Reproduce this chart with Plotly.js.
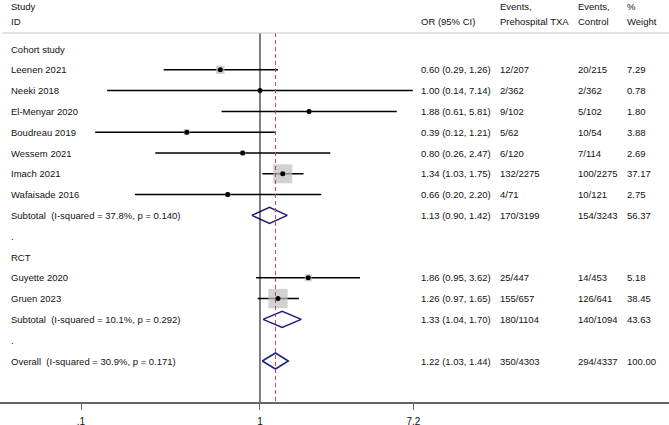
<!DOCTYPE html>
<html>
<head>
<meta charset="utf-8">
<script src="https://cdn.plot.ly/plotly-3.0.1.min.js"></script>
<style>html,body{margin:0;padding:0;background:#fff;}#chart{width:669px;height:425px;}</style>
</head>
<body>
<div id="chart"></div>
<script>
// ---------- data ----------
const studies   = ["Leenen 2021","Neeki 2018","El-Menyar 2020","Boudreau 2019","Wessem 2021","Imach 2021","Wafaisade 2016","Guyette 2020","Gruen 2023"];
const groupOf   = ["Cohort study","Cohort study","Cohort study","Cohort study","Cohort study","Cohort study","Cohort study","RCT","RCT"];
const orVals    = [0.60, 1.00, 1.88, 0.39, 0.80, 1.34, 0.66, 1.86, 1.26];
const ciLow     = [0.29, 0.14, 0.61, 0.12, 0.26, 1.03, 0.20, 0.95, 0.97];
const ciHigh    = [1.26, 7.14, 5.81, 1.21, 2.47, 1.75, 2.20, 3.62, 1.65];
const eventsTXA = ["12/207","2/362","9/102","5/62","6/120","132/2275","4/71","25/447","155/657"];
const eventsCtl = ["20/215","2/362","5/102","10/54","7/114","100/2275","10/121","14/453","126/641"];
const weights   = [7.29, 0.78, 1.80, 3.88, 2.69, 37.17, 2.75, 5.18, 38.45];

const groups      = ["Cohort study","RCT"];
const subLabel    = ["Subtotal  (I-squared = 37.8%, p = 0.140)","Subtotal  (I-squared = 10.1%, p = 0.292)"];
const subOR       = [1.13, 1.33];
const subLow      = [0.90, 1.04];
const subHigh     = [1.42, 1.70];
const subTXA      = ["170/3199","180/1104"];
const subCtl      = ["154/3243","140/1094"];
const subWeight   = ["56.37","43.63"];

const overallLabel = "Overall  (I-squared = 30.9%, p = 0.171)";
const overallOR = 1.22, overallLow = 1.03, overallHigh = 1.44;
const overallTXA = "350/4303", overallCtl = "294/4337", overallWeight = "100.00";

const tickVals = [0.1, 1, 7.2];
const tickText = [".1", "1", "7.2"];

// ---------- layout helpers ----------
const W = 669;
const rowY = i => 49 + 20.8 * i;
const fmt = v => v.toFixed(2);
const orText = (e, l, h) => `${fmt(e)} (${fmt(l)}, ${fmt(h)})`;
const colX = {label: 10, or: 420, txa: 499, ctl: 577, w: 626};
const FONT = {family: "Liberation Sans, Arial, sans-serif", size: 9.5, color: "#111"};

const annotations = [];
function txt(px, y, s) {
  annotations.push({xref: "paper", yref: "y", x: px / W, y: y, text: s.replace(/ /g, "\u00a0"),
    showarrow: false, xanchor: "left", yanchor: "middle", font: FONT, borderpad: 0});
}

// header
txt(colX.label, 6, "Study"); txt(colX.label, 21, "ID");
txt(colX.or, 21, "OR (95% CI)");
txt(colX.txa, 6, "Events,"); txt(colX.txa, 21, "Prehospital TXA");
txt(colX.ctl, 6, "Events,"); txt(colX.ctl, 21, "Control");
txt(colX.w, 6, "%"); txt(colX.w, 21, "Weight");

// build rows
const ciX = [], ciY = [], sqX = [], sqY = [], sqS = [], dotX = [], dotY = [];
const diamonds = [];
let r = 0;
groups.forEach((g, gi) => {
  txt(colX.label, rowY(r), g); r++;
  studies.forEach((s, i) => {
    if (groupOf[i] !== g) return;
    const y = rowY(r);
    txt(colX.label, y, s);
    txt(colX.or, y, orText(orVals[i], ciLow[i], ciHigh[i]));
    txt(colX.txa, y, eventsTXA[i]);
    txt(colX.ctl, y, eventsCtl[i]);
    txt(colX.w, y, fmt(weights[i]));
    ciX.push(ciLow[i], ciHigh[i], null); ciY.push(y, y, null);
    sqX.push(orVals[i]); sqY.push(y); sqS.push(3.12 * Math.sqrt(weights[i]));
    dotX.push(orVals[i]); dotY.push(y);
    r++;
  });
  const y = rowY(r);
  txt(colX.label, y, subLabel[gi]);
  txt(colX.or, y, orText(subOR[gi], subLow[gi], subHigh[gi]));
  txt(colX.txa, y, subTXA[gi]);
  txt(colX.ctl, y, subCtl[gi]);
  txt(colX.w, y, subWeight[gi]);
  diamonds.push([subLow[gi], subOR[gi], subHigh[gi], y]);
  r++;
  txt(colX.label, rowY(r), "."); r++;
});
{
  const y = rowY(r - 1 + 1);
  txt(colX.label, y, overallLabel);
  txt(colX.or, y, orText(overallOR, overallLow, overallHigh));
  txt(colX.txa, y, overallTXA);
  txt(colX.ctl, y, overallCtl);
  txt(colX.w, y, overallWeight);
  diamonds.push([overallLow, overallOR, overallHigh, y]);
}

const traces = [];
traces.push({x: ciX, y: ciY, mode: "lines", line: {color: "#000", width: 1.5}, hoverinfo: "skip", showlegend: false});
traces.push({x: sqX, y: sqY, mode: "markers", marker: {symbol: "square", size: sqS, color: "#bdbdbd", line: {width: 0}}, hoverinfo: "skip", showlegend: false});
traces.push({x: dotX, y: dotY, mode: "markers", marker: {symbol: "circle", size: 5, color: "#000"}, hoverinfo: "skip", showlegend: false});
diamonds.forEach(d => {
  const [l, e, h, y] = d, hh = 8;
  traces.push({x: [l, e, h, e, l], y: [y, y - hh, y, y + hh, y], mode: "lines", fill: "toself", fillcolor: "#fff",
    line: {color: "#1f1f78", width: 1.5}, hoverinfo: "skip", showlegend: false});
});
// null line at 1
traces.push({x: [1, 1], y: [33, 402], mode: "lines", line: {color: "#000", width: 1}, hoverinfo: "skip", showlegend: false});
// overall effect dashed line
traces.push({x: [overallOR, overallOR], y: [33, 402], mode: "lines", line: {color: "#c0404c", width: 1, dash: "4px,3px"}, hoverinfo: "skip", showlegend: false});

const layout = {
  width: 669, height: 425,
  margin: {l: 0, r: 0, t: 0, b: 23},
  paper_bgcolor: "#fff", plot_bgcolor: "#fff",
  showlegend: false,
  xaxis: {type: "log", range: [-1.4525, 2.285], showgrid: false, zeroline: false,
    tickmode: "array", tickvals: tickVals, ticktext: tickText, ticks: "outside", ticklen: 6, tickwidth: 1,
    tickcolor: "#666", showline: true, linecolor: "#666", linewidth: 1.5, ticklabelstandoff: 3,
    tickfont: {family: FONT.family, size: 10, color: "#111"}, fixedrange: true},
  yaxis: {range: [402, 0], visible: false, showgrid: false, zeroline: false, fixedrange: true},
  shapes: [{type: "line", xref: "paper", yref: "y", x0: 2 / W, x1: 1, y0: 33, y1: 33, line: {color: "#c8c8c8", width: 1}}],
  annotations: annotations
};

Plotly.newPlot("chart", traces, layout, {staticPlot: true, displayModeBar: false});
</script>
</body>
</html>
